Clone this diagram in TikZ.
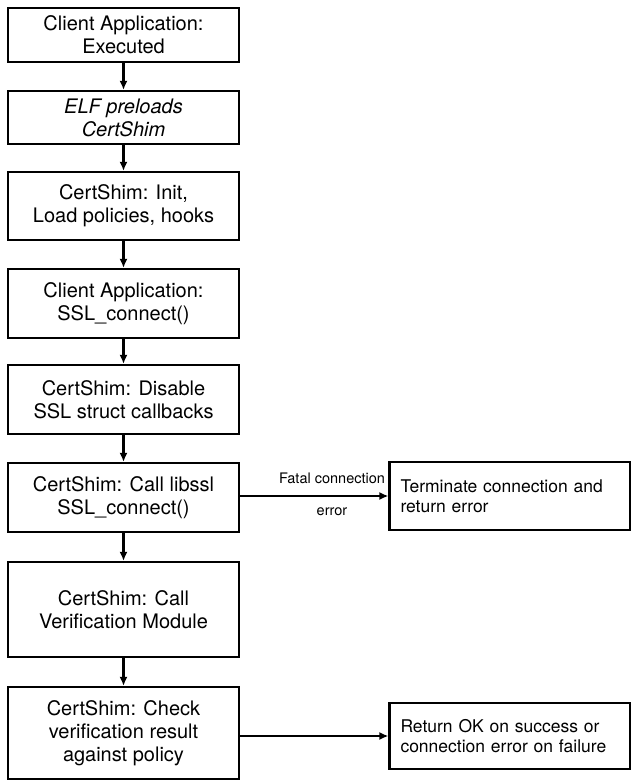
\documentclass[tikz,border=0pt]{standalone}
\usepackage{fontspec}
\setmainfont{TeX Gyre Heros}
\usetikzlibrary{arrows.meta}
\tikzset{
  flowbox/.style={draw=black, line width=2.2pt, fill=white, minimum width=231pt, align=center, inner sep=2pt, font=\fontsize{20}{23}\selectfont},
  sidebox/.style={draw=black, line width=2.2pt, fill=white, minimum width=241pt, text width=219pt, align=left, inner xsep=11pt, inner ysep=2pt, font=\fontsize{17.5}{20.5}\selectfont},
  flow/.style={line width=2.2pt, -{Latex[length=9pt,width=8pt]}},
  lbl/.style={font=\fontsize{14.5}{17}\selectfont, inner sep=0pt}
}
\begin{document}
\begin{tikzpicture}[x=1pt,y=-1pt]
\useasboundingbox (0,0) rectangle (630,781);
\node[flowbox, minimum height=54pt] (b1) at (123.5,35) {Client Application:\\Executed};
\node[flowbox, minimum height=53pt] (b2) at (123.5,117.5) {\itshape ELF preloads\\\itshape CertShim};
\node[flowbox, minimum height=68pt] (b3) at (123.5,206) {CertShim: Init,\\Load policies, hooks};
\node[flowbox, minimum height=69pt] (b4) at (123.5,303.5) {Client Application:\\SSL\_connect()};
\node[flowbox, minimum height=69pt] (b5) at (123.5,399.5) {CertShim: Disable\\SSL struct callbacks};
\node[flowbox, minimum height=69pt] (b6) at (123.5,497.5) {CertShim: Call libssl\\SSL\_connect()};
\node[flowbox, minimum height=95pt] (b7) at (123.5,609.5) {CertShim: Call\\Verification Module};
\node[flowbox, minimum height=92pt] (b8) at (123.5,733) {CertShim: Check\\verification result\\against policy};
\node[sidebox, minimum height=68pt] (t) at (510,496) {Terminate connection and\\return error\\[4pt]};
\node[sidebox, minimum height=66pt] (r) at (510,736) {Return OK on success or\\connection error on failure};
\draw[flow] (b1) -- (b2);
\draw[flow] (b2) -- (b3);
\draw[flow] (b3) -- (b4);
\draw[flow] (b4) -- (b5);
\draw[flow] (b5) -- (b6);
\draw[flow] (b6) -- (b7);
\draw[flow] (b7) -- (b8);
\draw[flow] (b6.east |- t.west) -- (t.west);
\draw[flow] (b8.east |- r.west) -- (r.west);
\node[lbl] (l1) at (332,478) {Fatal connection};
\node[lbl] (l2) at (332,512) {error};
\end{tikzpicture}
\end{document}
